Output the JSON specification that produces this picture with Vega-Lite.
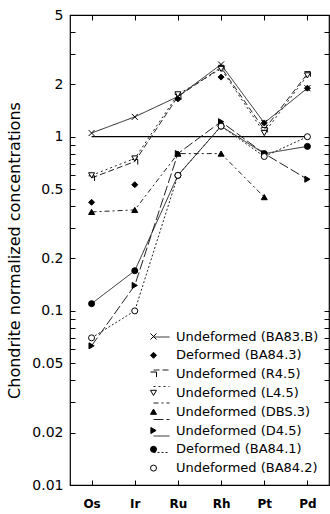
{
  "$schema": "https://vega.github.io/schema/vega-lite/v6.json",
  "width": 259,
  "height": 470,
  "autosize": {"type": "none"},
  "padding": {"left": 70, "top": 15, "right": 1, "bottom": 29},
  "background": "white",
  "config": {
    "view": {"stroke": "black", "strokeWidth": 1.2},
    "font": "DejaVu Sans",
    "axis": {"grid": false, "domain": false, "tickColor": "black", "labelColor": "black", "titleColor": "black"}
  },
  "datasets": {
    "ref": [{"el": "Os", "v": 1}, {"el": "Pd", "v": 1}],
    "conc": [
      {"series": "Undeformed (BA83.B)", "el": "Os", "v": 1.05},
      {"series": "Undeformed (BA83.B)", "el": "Ir", "v": 1.3},
      {"series": "Undeformed (BA83.B)", "el": "Ru", "v": 1.7},
      {"series": "Undeformed (BA83.B)", "el": "Rh", "v": 2.6},
      {"series": "Undeformed (BA83.B)", "el": "Pt", "v": 1.2},
      {"series": "Undeformed (BA83.B)", "el": "Pd", "v": 1.9},
      {"series": "Deformed (BA84.3)", "el": "Os", "v": 0.42},
      {"series": "Deformed (BA84.3)", "el": "Ir", "v": 0.53},
      {"series": "Deformed (BA84.3)", "el": "Ru", "v": 1.65},
      {"series": "Deformed (BA84.3)", "el": "Rh", "v": 2.2},
      {"series": "Deformed (BA84.3)", "el": "Pt", "v": 1.2},
      {"series": "Deformed (BA84.3)", "el": "Pd", "v": 1.9},
      {"series": "Undeformed (R4.5)", "el": "Os", "v": 0.58},
      {"series": "Undeformed (R4.5)", "el": "Ir", "v": 0.72},
      {"series": "Undeformed (R4.5)", "el": "Ru", "v": 1.7},
      {"series": "Undeformed (R4.5)", "el": "Rh", "v": 2.5},
      {"series": "Undeformed (R4.5)", "el": "Pt", "v": 1.1},
      {"series": "Undeformed (R4.5)", "el": "Pd", "v": 2.3},
      {"series": "Undeformed (L4.5)", "el": "Os", "v": 0.6},
      {"series": "Undeformed (L4.5)", "el": "Ir", "v": 0.75},
      {"series": "Undeformed (L4.5)", "el": "Ru", "v": 1.75},
      {"series": "Undeformed (L4.5)", "el": "Rh", "v": 2.45},
      {"series": "Undeformed (L4.5)", "el": "Pt", "v": 1.05},
      {"series": "Undeformed (L4.5)", "el": "Pd", "v": 2.25},
      {"series": "Undeformed (DBS.3)", "el": "Os", "v": 0.37},
      {"series": "Undeformed (DBS.3)", "el": "Ir", "v": 0.38},
      {"series": "Undeformed (DBS.3)", "el": "Ru", "v": 0.8},
      {"series": "Undeformed (DBS.3)", "el": "Rh", "v": 0.8},
      {"series": "Undeformed (DBS.3)", "el": "Pt", "v": 0.45},
      {"series": "Undeformed (D4.5)", "el": "Os", "v": 0.063},
      {"series": "Undeformed (D4.5)", "el": "Ir", "v": 0.14},
      {"series": "Undeformed (D4.5)", "el": "Ru", "v": 0.8},
      {"series": "Undeformed (D4.5)", "el": "Rh", "v": 1.22},
      {"series": "Undeformed (D4.5)", "el": "Pt", "v": 0.8},
      {"series": "Undeformed (D4.5)", "el": "Pd", "v": 0.57},
      {"series": "Deformed (BA84.1)", "el": "Os", "v": 0.11},
      {"series": "Deformed (BA84.1)", "el": "Ir", "v": 0.17},
      {"series": "Deformed (BA84.1)", "el": "Ru", "v": 0.6},
      {"series": "Deformed (BA84.1)", "el": "Rh", "v": 1.15},
      {"series": "Deformed (BA84.1)", "el": "Pt", "v": 0.8},
      {"series": "Deformed (BA84.1)", "el": "Pd", "v": 0.88},
      {"series": "Undeformed (BA84.2)", "el": "Os", "v": 0.07},
      {"series": "Undeformed (BA84.2)", "el": "Ir", "v": 0.1},
      {"series": "Undeformed (BA84.2)", "el": "Ru", "v": 0.6},
      {"series": "Undeformed (BA84.2)", "el": "Rh", "v": 1.15},
      {"series": "Undeformed (BA84.2)", "el": "Pt", "v": 0.77},
      {"series": "Undeformed (BA84.2)", "el": "Pd", "v": 1.0}
    ]
  },
  "layer": [
    {
      "data": {"name": "ref"},
      "mark": {"type": "line", "color": "black", "strokeWidth": 1.3},
      "encoding": {
        "x": {"field": "el", "type": "nominal",
          "scale": {"type": "point", "domain": ["Os", "Ir", "Ru", "Rh", "Pt", "Pd"], "padding": 0.5},
          "axis": {"orient": "bottom", "title": null, "tickSize": -5, "labelPadding": 18, "labelFontSize": 12, "labelFontWeight": "bold", "labelAngle": 0}},
        "y": {"field": "v", "type": "quantitative",
          "scale": {"type": "log", "domain": [0.01, 5], "nice": false},
          "axis": {"orient": "left", "title": "Chondrite normalized concentrations", "titleFontSize": 16, "titleFontWeight": "normal", "titlePadding": 9,
            "values": [0.01, 0.02, 0.03, 0.04, 0.05, 0.06, 0.07, 0.08, 0.09, 0.1, 0.2, 0.3, 0.4, 0.5, 0.6, 0.7, 0.8, 0.9, 1, 2, 3, 4, 5],
            "labelExpr": "indexof([0.01, 0.02, 0.05, 0.1, 0.2, 0.5, 1, 2, 5], datum.value) >= 0 ? datum.label : ''",
            "format": "~g", "tickSize": -5, "labelPadding": 12, "labelFontSize": 14}}
      }
    },
    {
      "data": {"name": "conc"},
      "transform": [{"filter": "datum.series != 'Deformed (BA84.3)'"}],
      "mark": {"type": "line", "color": "#222", "strokeWidth": 1},
      "encoding": {
        "x": {"field": "el", "type": "nominal", "scale": {"type": "point", "domain": ["Os", "Ir", "Ru", "Rh", "Pt", "Pd"], "padding": 0.5}, "axis": null},
        "y": {"field": "v", "type": "quantitative", "scale": {"type": "log", "domain": [0.01, 5], "nice": false}, "axis": null},
        "strokeDash": {"field": "series", "type": "nominal",
          "scale": {"domain": ["Undeformed (BA83.B)", "Deformed (BA84.3)", "Undeformed (R4.5)", "Undeformed (L4.5)", "Undeformed (DBS.3)", "Undeformed (D4.5)", "Deformed (BA84.1)", "Undeformed (BA84.2)", " "],
            "range": [[1, 0], [0, 1000], [6, 3], [2, 3], [5, 3, 2, 3], [10, 3], [1, 0], [2, 2], [0, 1000]]},
          "legend": {"orient": "none", "legendX": 83, "legendY": 313.5, "title": null, "symbolType": "stroke", "symbolSize": 256, "symbolStrokeWidth": 1, "symbolStrokeColor": "#222", "labelExpr": "''", "labelFontSize": 13, "rowPadding": 0.5, "padding": 0}}
      }
    },
    {
      "data": {"name": "conc"},
      "mark": {"type": "point", "filled": true, "size": 36, "stroke": "black", "strokeWidth": 1, "opacity": 1},
      "encoding": {
        "x": {"field": "el", "type": "nominal", "scale": {"type": "point", "domain": ["Os", "Ir", "Ru", "Rh", "Pt", "Pd"], "padding": 0.5}, "axis": null},
        "y": {"field": "v", "type": "quantitative", "scale": {"type": "log", "domain": [0.01, 5], "nice": false}, "axis": null},
        "shape": {"field": "series", "type": "nominal",
          "scale": {"domain": ["Undeformed (BA83.B)", "Deformed (BA84.3)", "Undeformed (R4.5)", "Undeformed (L4.5)", "Undeformed (DBS.3)", "Undeformed (D4.5)", "Deformed (BA84.1)", "Undeformed (BA84.2)"],
            "range": ["M-1,-1L1,1M-1,1L1,-1", "diamond", "M-1,-0.7L1,-0.7L1,1", "triangle-down", "triangle-up", "triangle-right", "circle", "circle"]},
          "legend": {"orient": "none", "legendX": 77, "legendY": 315, "title": null, "symbolSize": 36, "symbolStrokeWidth": 1, "labelFontSize": 13, "labelColor": "black", "labelOffset": 16, "rowPadding": 4.8, "padding": 0}},
        "fill": {"field": "series", "type": "nominal",
          "scale": {"domain": ["Undeformed (BA83.B)", "Deformed (BA84.3)", "Undeformed (R4.5)", "Undeformed (L4.5)", "Undeformed (DBS.3)", "Undeformed (D4.5)", "Deformed (BA84.1)", "Undeformed (BA84.2)"],
            "range": ["transparent", "black", "transparent", "white", "black", "black", "black", "white"]},
          "legend": {"orient": "none", "legendX": 77, "legendY": 315, "title": null, "symbolSize": 36, "symbolStrokeWidth": 1, "labelFontSize": 13, "labelColor": "black", "labelOffset": 16, "rowPadding": 4.8, "padding": 0}}
      }
    },
    {
      "data": {"name": "ref"},
      "mark": {"type": "line", "opacity": 0},
      "encoding": {
        "x": {"field": "el", "type": "nominal", "scale": {"type": "point", "domain": ["Os", "Ir", "Ru", "Rh", "Pt", "Pd"], "padding": 0.5},
          "axis": {"orient": "top", "title": null, "labels": false, "tickSize": -5}},
        "y": {"field": "v", "type": "quantitative", "scale": {"type": "log", "domain": [0.01, 5], "nice": false},
          "axis": {"orient": "right", "title": null, "labels": false, "tickSize": -5,
            "values": [0.01, 0.02, 0.03, 0.04, 0.05, 0.06, 0.07, 0.08, 0.09, 0.1, 0.2, 0.3, 0.4, 0.5, 0.6, 0.7, 0.8, 0.9, 1, 2, 3, 4, 5]}}
      }
    }
  ],
  "resolve": {"axis": {"x": "independent", "y": "independent"}}
}
